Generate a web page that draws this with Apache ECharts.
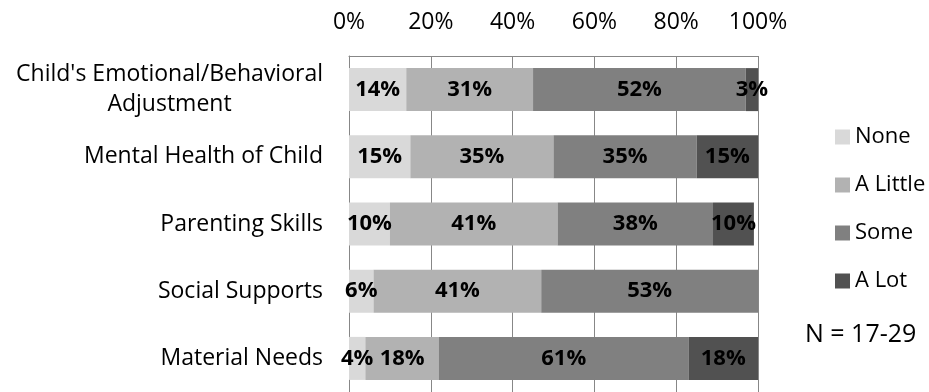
<!DOCTYPE html>
<html>
<head>
<meta charset="utf-8">
<script src="https://cdn.jsdelivr.net/npm/echarts@6/dist/echarts.min.js"></script>
<style>
  html, body { margin: 0; padding: 0; background: #fff; }
  #chart { width: 929px; height: 392px; }
</style>
</head>
<body>
<div id="chart"></div>
<script>
// Areas of change, share of respondents per level
const categories = [
  "Child's Emotional/Behavioral Adjustment",
  'Mental Health of Child',
  'Parenting Skills',
  'Social Supports',
  'Material Needs'
];
const levelNames = ['None', 'A Little', 'Some', 'A Lot'];
const noneValues    = [14, 15, 10, 6, 4];
const aLittleValues = [31, 35, 41, 41, 18];
const someValues    = [52, 35, 38, 53, 61];
const aLotValues    = [3, 15, 10, 0, 18];
const axisTicks = [0, 20, 40, 60, 80, 100];
const sampleNote = 'N = 17-29';

const FONT = '"Open Sans", "Noto Sans", sans-serif';
const FS = 22;       // legend and bar labels
const CAT_FS = 23;   // category and percentage axis labels
const colors = ['#d9d9d9', '#b2b2b2', '#808080', '#515151'];
const gridColor = '#878787';

// width of the first line of the wrapped category, so the second line can be centred under it
function textWidth(str, size, weight) {
  const c = document.createElement('canvas').getContext('2d');
  c.font = (weight || 'normal') + ' ' + size + 'px ' + FONT;
  return c.measureText(str).width;
}
const wrapLine1 = "Child's Emotional/Behavioral";
const wrapLine2 = 'Adjustment';
const wrapWidth = Math.ceil(textWidth(wrapLine1, CAT_FS));

const chart = echarts.init(document.getElementById('chart'), null, { renderer: 'canvas' });

const seriesData = [noneValues, aLittleValues, someValues, aLotValues];

chart.setOption({
  animation: false,
  textStyle: { fontFamily: FONT },
  grid: { left: 349, right: 171, top: 56, height: 338, containLabel: false },
  xAxis: {
    type: 'value',
    position: 'top',
    min: axisTicks[0],
    max: axisTicks[axisTicks.length - 1],
    interval: axisTicks[1] - axisTicks[0],
    axisLine: { show: true, lineStyle: { color: gridColor, width: 1 } },
    axisTick: { show: false },
    splitLine: { show: true, lineStyle: { color: gridColor, width: 1 } },
    axisLabel: {
      margin: 22,
      color: '#000',
      fontSize: CAT_FS,
      fontFamily: FONT,
      formatter: '{value}%'
    }
  },
  yAxis: {
    type: 'category',
    inverse: true,
    data: categories,
    axisLine: { show: true, lineStyle: { color: gridColor, width: 1 } },
    axisTick: { show: false },
    splitLine: { show: false },
    axisLabel: {
      margin: 26,
      color: '#000',
      fontSize: CAT_FS,
      fontFamily: FONT,
      lineHeight: 30,
      formatter: function (v) {
        if (v === categories[0]) {
          return '{a|' + wrapLine1 + '}\n{b|' + wrapLine2 + '}';
        }
        return v;
      },
      rich: {
        a: { fontSize: CAT_FS, fontFamily: FONT, color: '#000', lineHeight: 30 },
        b: { fontSize: CAT_FS, fontFamily: FONT, color: '#000', lineHeight: 30, width: wrapWidth, align: 'center' }
      }
    }
  },
  legend: {
    orient: 'vertical',
    left: 830,
    top: 121,
    itemWidth: 15,
    itemHeight: 15,
    itemGap: 26,
    icon: 'rect',
    data: levelNames,
    textStyle: { color: '#000', fontSize: FS, fontFamily: FONT }
  },
  graphic: [{
    type: 'text',
    left: 805,
    top: 322,
    style: { text: sampleNote, fontSize: 25, fontFamily: FONT, fill: '#000' }
  }],
  series: levelNames.map(function (name, i) {
    return {
      name: name,
      type: 'bar',
      stack: 'total',
      barWidth: '64%',
      itemStyle: { color: colors[i] },
      label: {
        show: true,
        position: 'inside',
        color: '#000',
        fontWeight: 'bold',
        fontSize: FS,
        fontFamily: FONT,
        formatter: function (p) { return p.value > 0 ? p.value + '%' : ''; }
      },
      data: seriesData[i]
    };
  })
});
</script>
</body>
</html>
